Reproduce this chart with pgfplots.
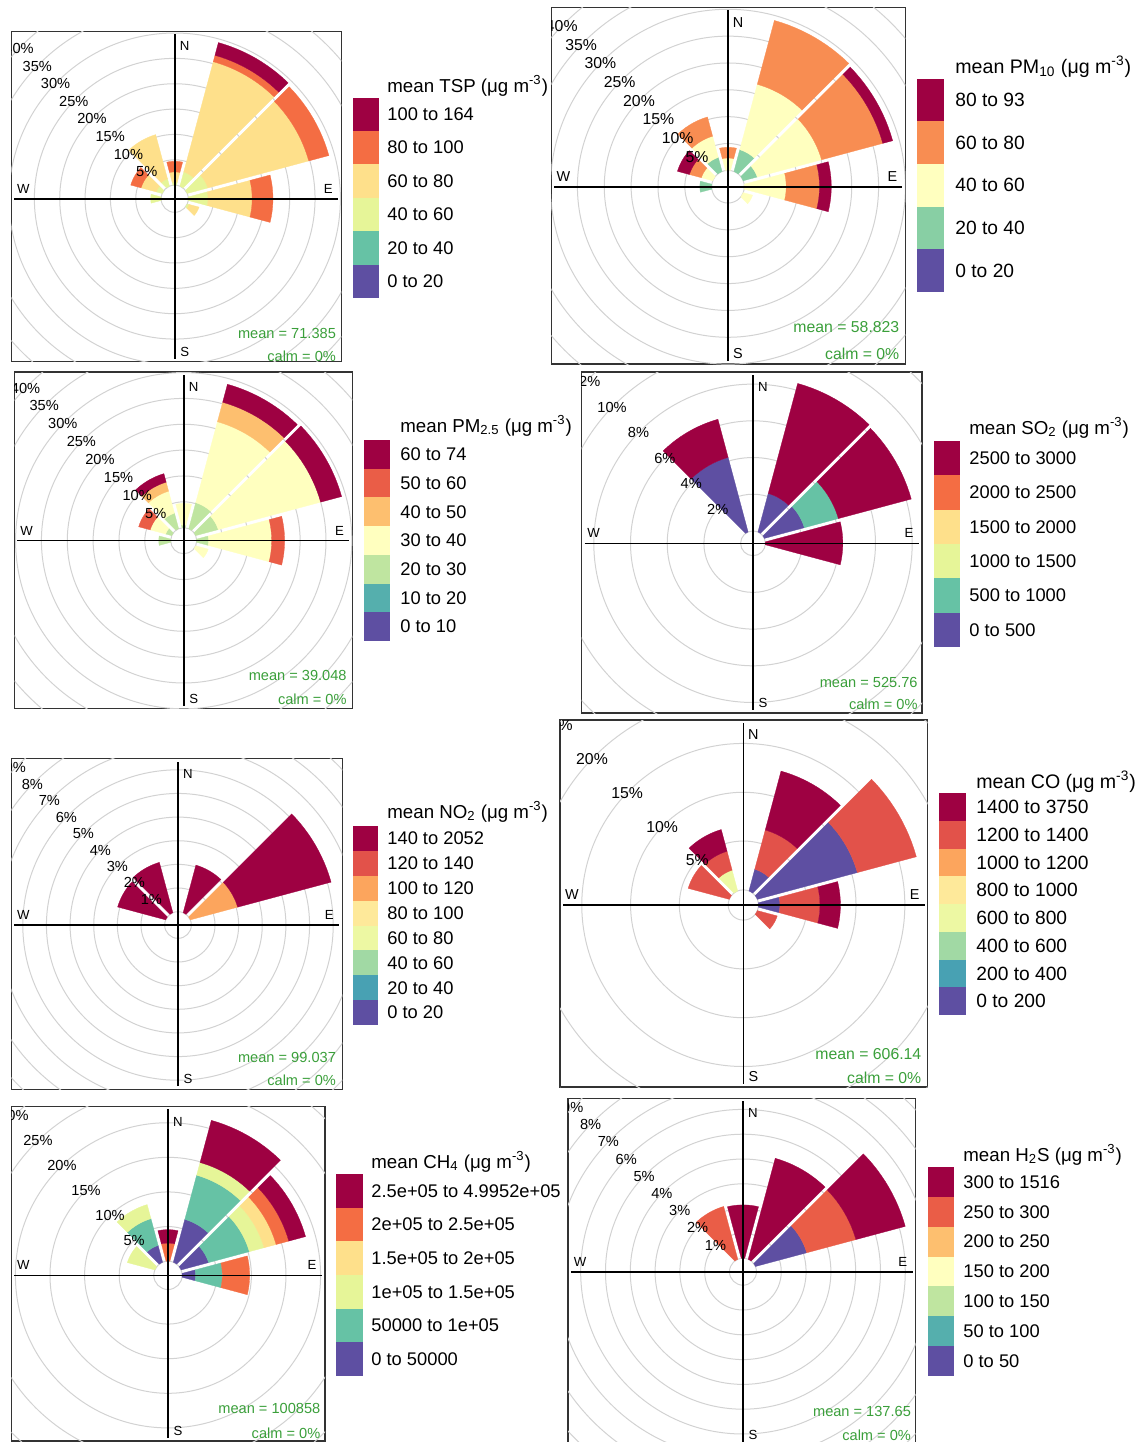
\documentclass[border=0pt]{standalone}
\usepackage{pgfplots}
\pgfplotsset{compat=1.18}
\usepackage{fontspec}
\setmainfont{Liberation Sans}

\definecolor{dr}{HTML}{9E0142}
\definecolor{pu}{HTML}{5E4FA2}
\definecolor{sxo}{HTML}{F46D43}
\definecolor{sxy}{HTML}{FEE08B}
\definecolor{sxg}{HTML}{E6F598}
\definecolor{sxt}{HTML}{66C2A5}
\definecolor{fvo}{HTML}{F88D52}
\definecolor{fvy}{HTML}{FFFFBF}
\definecolor{fvg}{HTML}{88CFA4}
\definecolor{svr}{HTML}{EA5D47}
\definecolor{svo}{HTML}{FDBF6F}
\definecolor{svy}{HTML}{FFFFBF}
\definecolor{svg}{HTML}{BFE5A0}
\definecolor{svt}{HTML}{55AFAD}
\definecolor{etr}{HTML}{E2524A}
\definecolor{eto}{HTML}{FCA55D}
\definecolor{ety}{HTML}{FEE99A}
\definecolor{etl}{HTML}{EDF8A3}
\definecolor{etg}{HTML}{A1D9A4}
\definecolor{ett}{HTML}{48A1B3}
\definecolor{gridcol}{HTML}{D2D2D2}
\definecolor{meanc}{HTML}{3A9F3A}

\pgfplotsset{rosebase/.style={scale only axis, anchor=north west, xtick=\empty, ytick=\empty,
  axis line style={black!80, line width=0.55pt}, clip=true}}
\tikzset{pctstyle/.style={font=\fontsize{7.3}{8}\selectfont, inner sep=0pt},
  pctbig/.style={font=\fontsize{7.9}{8.5}\selectfont, inner sep=0pt},
  cmp/.style={font=\fontsize{6.6}{7}\selectfont, inner sep=0pt},
  cmpbig/.style={font=\fontsize{7.2}{8}\selectfont, inner sep=0pt},
  legtext/.style={font=\fontsize{9.15}{10}\selectfont, inner sep=0pt},
  legbig/.style={font=\fontsize{9.6}{10.5}\selectfont, inner sep=0pt},
  legtitle/.style={font=\fontsize{9.35}{10}\selectfont, inner sep=0pt, anchor=base west},
  legtitlebig/.style={font=\fontsize{9.8}{10.5}\selectfont, inner sep=0pt, anchor=base west},
  meanst/.style={font=\fontsize{7.3}{8}\selectfont, inner sep=0pt, text=meanc, anchor=east},
  meanbig/.style={font=\fontsize{7.9}{8.5}\selectfont, inner sep=0pt, text=meanc, anchor=east}}

\def\lang{136}
% one coloured segment of a wind-rose wedge: direction, from %, to %, colour
\newcommand\wseg[4]{%
  \pgfmathsetmacro\wra{#2+\off}%
  \pgfmathsetmacro\wrb{#3+\off}%
  \pgfmathsetmacro\wda{asin(\hg/\wra)}%
  \pgfmathsetmacro\wdb{asin(\hg/\wrb)}%
  \gdef\wpts{}%
  \foreach \wi in {0,...,12}{%
    \pgfmathsetmacro\wang{105-#1-\wdb-\wi*(30-2*\wdb)/12}%
    \xdef\wpts{\wpts(\wang,\wrb)}}%
  \foreach \wi in {0,...,12}{%
    \pgfmathsetmacro\wang{75-#1+\wda+\wi*(30-2*\wda)/12}%
    \xdef\wpts{\wpts(\wang,\wra)}}%
  \edef\wtmp{\noexpand\addplot[data cs=polar, fill=#4, draw=#4, line width=0.15pt, forget plot] coordinates {\wpts} -- cycle;}%
  \wtmp}
\newcommand\gcirc[1]{%
  \pgfmathsetmacro\wrr{(\off+#1)*\kk*0.5}%
  \edef\wtmp{\noexpand\draw[gridcol, line width=0.5pt] (axis cs:0,0) circle[radius=\wrr pt];}\wtmp}
\newcommand\plab[1]{%
  \pgfmathsetmacro\wlx{(\off+#1)*cos(\lang)}%
  \pgfmathsetmacro\wly{(\off+#1)*sin(\lang)}%
  \edef\wtmp{\noexpand\node[\pst] at (axis cs:\wlx,\wly) {#1\noexpand\%};}\wtmp}
\newcommand\crossh[4]{\draw[black, line width=0.8pt] (axis cs:#1,0) -- (axis cs:#2,0);
  \draw[black, line width=0.8pt] (axis cs:0,#3) -- (axis cs:0,#4);}
\newcommand\compass[7]{% L T R B cx cy style
  \node[#7] at ({#5+10},{#2+15}) {N};
  \node[#7] at ({#5+10},{#4-10}) {S};
  \node[#7] at ({#1+12},{#6-10}) {W};
  \node[#7] at ({#3-13},{#6-10}) {E};}
\newcommand\wleg[7]{% x1 x2 ytop h labelx style list
  \foreach \wc/\wl [count=\wi from 0] in {#7}{%
    \fill[\wc] (#1,{#3+\wi*#4}) rectangle (#2,{#3+(\wi+1)*#4});
    \node[#6, anchor=west] at (#5,{#3+(\wi+0.5)*#4}) {\wl};}}

\begin{document}
\begin{tikzpicture}
\path[use as bounding box] (0,0) rectangle (570pt,-721pt);

% ---------------- TSP
\begin{axis}[rosebase, at={(5.65pt,-15.65pt)}, width=165pt, height=165.1pt,
  xmin=-32.23, xmax=32.86, ymin=-32.11, ymax=33.02]
\def\off{2.68}\def\kk{5.07}\pgfmathsetmacro\hg{1.8/\kk}\def\pst{pctstyle}
\foreach \gv in {0,5,...,40}{\gcirc{\gv}}
\wseg{0}{0}{0.6}{sxg}\wseg{0}{0.6}{2.6}{sxy}\wseg{0}{2.6}{4.7}{sxo}
\wseg{30}{0}{2.9}{sxg}\wseg{30}{2.9}{25.4}{sxy}\wseg{30}{25.4}{26.7}{sxo}\wseg{30}{26.7}{29.3}{dr}
\wseg{60}{0}{4.2}{sxg}\wseg{60}{4.2}{24.8}{sxy}\wseg{60}{24.8}{28.9}{sxo}
\wseg{90}{0}{3.9}{sxg}\wseg{90}{3.9}{12.6}{sxy}\wseg{90}{12.6}{16.7}{sxo}
\wseg{120}{0}{0.4}{sxg}\wseg{120}{0.4}{2.4}{sxy}
\wseg{270}{0}{2.05}{sxg}
\wseg{300}{0}{1.2}{sxg}\wseg{300}{1.2}{4.3}{sxy}\wseg{300}{4.3}{6.4}{sxo}
\wseg{330}{0}{1.5}{sxg}\wseg{330}{1.5}{10.5}{sxy}
\crossh{-31.64}{32.27}{-31.52}{32.43}
\foreach \gv in {5,10,...,40}{\plab{\gv}}
\end{axis}

% ---------------- PM10
\begin{axis}[rosebase, at={(275.65pt,-3.65pt)}, width=177pt, height=178.35pt,
  xmin=-32.91, xmax=33.02, ymin=-33.02, ymax=33.41]
\def\off{3.04}\def\kk{5.37}\pgfmathsetmacro\hg{1.8/\kk}\def\pst{pctbig}
\foreach \gv in {0,5,...,40}{\gcirc{\gv}}
\wseg{0}{0}{2.3}{fvy}\wseg{0}{2.3}{4.3}{fvo}
\wseg{30}{0}{4.2}{fvg}\wseg{30}{4.2}{16.8}{fvy}\wseg{30}{16.8}{29.1}{fvo}
\wseg{60}{0}{2.7}{fvg}\wseg{60}{2.7}{15.1}{fvy}\wseg{60}{15.1}{26.9}{fvo}\wseg{60}{26.9}{28.8}{dr}
\wseg{90}{0}{7.8}{fvy}\wseg{90}{7.8}{14.0}{fvo}\wseg{90}{14.0}{16.2}{dr}
\wseg{120}{0}{1.8}{fvy}
\wseg{270}{0}{2.2}{fvg}
\wseg{300}{0}{2.2}{fvy}\wseg{300}{2.2}{4.5}{fvo}\wseg{300}{4.5}{6.8}{dr}
\wseg{330}{0}{2.7}{fvg}\wseg{330}{2.7}{6.8}{fvy}\wseg{330}{6.8}{10.5}{fvo}
\crossh{-32.35}{32.46}{-32.46}{32.85}
\foreach \gv in {5,10,...,40}{\plab{\gv}}
\end{axis}

% ---------------- PM2.5
\begin{axis}[rosebase, at={(7.25pt,-186pt)}, width=169pt, height=168.25pt,
  xmin=-32.73, xmax=32.65, ymin=-32.46, ymax=32.63]
\def\off{2.52}\def\kk{5.17}\pgfmathsetmacro\hg{1.8/\kk}\def\pst{pctstyle}
\foreach \gv in {0,5,...,40}{\gcirc{\gv}}
\wseg{0}{0}{0.5}{svg}\wseg{0}{0.5}{4.7}{svy}
\wseg{30}{0}{5.2}{svg}\wseg{30}{5.2}{21.4}{svy}\wseg{30}{21.4}{25.3}{svo}\wseg{30}{25.3}{28.9}{dr}
\wseg{60}{0}{4.5}{svg}\wseg{60}{4.5}{25.0}{svy}\wseg{60}{25.0}{29.2}{dr}
\wseg{90}{0}{2.3}{svg}\wseg{90}{2.3}{14.5}{svy}\wseg{90}{14.5}{17.0}{svr}
\wseg{120}{0}{2.5}{svy}
\wseg{270}{0}{2.3}{svg}
\wseg{300}{0}{1.2}{svg}\wseg{300}{1.2}{4.3}{svy}\wseg{300}{4.3}{6.6}{svr}
\wseg{330}{0}{3.1}{svg}\wseg{330}{3.1}{7.5}{svy}\wseg{330}{7.5}{9.3}{svo}\wseg{330}{9.3}{11.0}{dr}
\crossh{-32.15}{32.07}{-31.88}{32.05}
\foreach \gv in {5,10,...,40}{\plab{\gv}}
\end{axis}

% ---------------- SO2
\begin{axis}[rosebase, at={(290.75pt,-186pt)}, width=170.25pt, height=170.5pt,
  xmin=-9.346, xmax=9.210, ymin=-9.248, ymax=9.335]
\def\off{0.675}\def\kk{18.35}\pgfmathsetmacro\hg{1.8/\kk}\def\pst{pctstyle}
\foreach \gv in {0,2,...,12}{\gcirc{\gv}}
\wseg{30}{0}{2.17}{pu}\wseg{30}{2.17}{8.37}{dr}
\wseg{60}{0}{2.25}{pu}\wseg{60}{2.25}{4.17}{sxt}\wseg{60}{4.17}{8.28}{dr}
\wseg{90}{0}{4.22}{dr}
\wseg{330}{0}{4.2}{pu}\wseg{330}{4.2}{6.35}{dr}
\crossh{-9.18}{9.05}{-9.08}{9.17}
\foreach \gv in {2,4,...,12}{\plab{\gv}}
\end{axis}

% ---------------- NO2
\begin{axis}[rosebase, at={(5.65pt,-379.35pt)}, width=165.5pt, height=165.3pt,
  xmin=-7.052, xmax=6.950, ymin=-6.950, ymax=7.035]
\def\off{0.565}\def\kk{23.64}\pgfmathsetmacro\hg{1.8/\kk}\def\pst{pctstyle}
\foreach \gv in {0,1,...,9}{\gcirc{\gv}}
\wseg{30}{0}{2.08}{dr}
\wseg{60}{0}{2.07}{eto}\wseg{60}{2.07}{6.16}{dr}
\wseg{300}{0}{2.1}{dr}
\wseg{330}{0}{2.2}{dr}
\crossh{-6.92}{6.82}{-6.82}{6.91}
\foreach \gv in {1,2,...,9}{\plab{\gv}}
\end{axis}

% ---------------- CO
\begin{axis}[rosebase, at={(280pt,-360pt)}, width=183.85pt, height=183.5pt,
  xmin=-18.78, xmax=18.89, ymin=-18.65, ymax=18.95]
\def\off{1.55}\def\kk{9.76}\pgfmathsetmacro\hg{1.8/\kk}\def\pst{pctbig}
\foreach \gv in {0,5,...,25}{\gcirc{\gv}}
\wseg{30}{0}{2.3}{pu}\wseg{30}{2.3}{6.45}{etr}\wseg{30}{6.45}{12.7}{dr}
\wseg{60}{0}{10.6}{pu}\wseg{60}{10.6}{16.85}{etr}
\wseg{90}{0}{2.2}{pu}\wseg{90}{2.2}{6.3}{etr}\wseg{90}{6.3}{8.4}{dr}
\wseg{120}{0}{2.1}{etr}
\wseg{300}{0}{4.35}{etr}
\wseg{330}{0}{2.2}{etl}\wseg{330}{2.2}{4.2}{etr}\wseg{330}{4.2}{6.5}{dr}
\crossh{-18.47}{18.58}{-18.34}{18.64}
\foreach \gv in {5,10,...,25}{\plab{\gv}}
\end{axis}

% ---------------- CH4
\begin{axis}[rosebase, at={(5.65pt,-553.25pt)}, width=156.85pt, height=167.25pt,
  xmin=-22.64, xmax=22.69, ymin=-23.94, ymax=24.39]
\def\off{2.05}\def\kk{6.92}\pgfmathsetmacro\hg{1.8/\kk}\def\pst{pctstyle}\def\lang{134}
\foreach \gv in {0,5,...,30}{\gcirc{\gv}}
\wseg{0}{0}{2.6}{sxo}\wseg{0}{2.6}{4.55}{dr}
\wseg{30}{0}{6.4}{pu}\wseg{30}{6.4}{13.0}{sxt}\wseg{30}{13.0}{14.9}{sxg}\wseg{30}{14.9}{21.2}{dr}
\wseg{60}{0}{4.1}{pu}\wseg{60}{4.1}{10.2}{sxt}\wseg{60}{10.2}{12.4}{sxg}\wseg{60}{12.4}{14.2}{sxy}\wseg{60}{14.2}{16.1}{sxo}\wseg{60}{16.1}{18.6}{dr}
\wseg{90}{0}{1.95}{pu}\wseg{90}{1.95}{5.8}{sxt}\wseg{90}{5.8}{9.75}{sxo}
\wseg{300}{0}{4.1}{sxg}
\wseg{330}{0}{2.5}{pu}\wseg{330}{2.5}{6.5}{sxt}\wseg{330}{6.5}{8.6}{sxg}
\crossh{-22.21}{22.26}{-23.51}{23.96}
\foreach \gv in {5,10,...,30}{\plab{\gv}}
\end{axis}

% ---------------- H2S
\begin{axis}[rosebase, at={(284pt,-549.15pt)}, width=173.85pt, height=173.35pt,
  xmin=-7.056, xmax=6.964, ymin=-6.988, ymax=6.992]
\def\off{0.544}\def\kk{24.8}\pgfmathsetmacro\hg{1.8/\kk}\def\pst{pctstyle}
\foreach \gv in {0,1,...,9}{\gcirc{\gv}}
\wseg{0}{0}{2.15}{dr}
\wseg{30}{0}{4.21}{dr}
\wseg{60}{0}{2.14}{pu}\wseg{60}{2.14}{4.19}{svr}\wseg{60}{4.19}{6.25}{dr}
\wseg{330}{0}{2.2}{svr}
\crossh{-6.94}{6.84}{-6.87}{6.87}
\foreach \gv in {1,2,...,9}{\plab{\gv}}
\end{axis}

% ---------------- texts and legends (pixel coordinates)
\begin{scope}[x=0.5pt, y=-0.5pt]
\compass{11.3}{31.3}{341.3}{361.5}{174.7}{198.7}{cmp}
\compass{551.3}{7.3}{905.3}{364}{728}{186.7}{cmpbig}
\compass{14.5}{372}{352.5}{708.5}{183.7}{540.7}{cmp}
\compass{581.5}{372}{922}{713}{753}{543.3}{cmp}
\compass{11.3}{758.7}{342.3}{1089.3}{178}{925}{cmp}
\compass{560}{720}{927.7}{1087}{743.3}{905}{cmpbig}
\compass{11.3}{1106.5}{325}{1441}{168}{1275.3}{cmp}
\compass{568}{1098.3}{915.7}{1445}{743}{1271.7}{cmp}

\node[meanst] at (336.3,333) {mean = 71.385};
\node[meanst] at (336.3,356) {calm = 0\%};
\node[meanbig] at (899.7,327.3) {mean = 58.823};
\node[meanbig] at (899.7,354) {calm = 0\%};
\node[meanst] at (347,675.7) {mean = 39.048};
\node[meanst] at (347,699) {calm = 0\%};
\node[meanst] at (918,682.3) {mean = 525.76};
\node[meanst] at (918,704) {calm = 0\%};
\node[meanst] at (336.3,1057.7) {mean = 99.037};
\node[meanst] at (336.3,1080) {calm = 0\%};
\node[meanbig] at (921.7,1054.3) {mean = 606.14};
\node[meanbig] at (921.7,1077.7) {calm = 0\%};
\node[meanst] at (320.7,1408) {mean = 100858};
\node[meanst] at (320.7,1433) {calm = 0\%};
\node[meanst] at (911.3,1411.7) {mean = 137.65};
\node[meanst] at (911.3,1435.7) {calm = 0\%};

% legends
\node[legtitle] at (387,92) {mean TSP (μg m\textsuperscript{-3})};
\wleg{352.5}{378.5}{97.5}{33.42}{387}{legtext}{dr/100 to 164, sxo/80 to 100, sxy/60 to 80, sxg/40 to 60, sxt/20 to 40, pu/0 to 20}
\node[legtitlebig] at (955,73) {mean PM\textsubscript{10} (μg m\textsuperscript{-3})};
\wleg{917}{944}{78.5}{42.7}{955}{legbig}{dr/80 to 93, fvo/60 to 80, fvy/40 to 60, fvg/20 to 40, pu/0 to 20}
\node[legtitle] at (400,432) {mean PM\textsubscript{2.5} (μg m\textsuperscript{-3})};
\wleg{364}{390}{440}{28.71}{400}{legtext}{dr/60 to 74, svr/50 to 60, svo/40 to 50, svy/30 to 40, svg/20 to 30, svt/10 to 20, pu/0 to 10}
\node[legtitle] at (969,434) {mean SO\textsubscript{2} (μg m\textsuperscript{-3})};
\wleg{934}{960}{441}{34.33}{969}{legtext}{dr/2500 to 3000, sxo/2000 to 2500, sxy/1500 to 2000, sxg/1000 to 1500, sxt/500 to 1000, pu/0 to 500}
\node[legtitle] at (387,818) {mean NO\textsubscript{2} (μg m\textsuperscript{-3})};
\wleg{353}{378}{826}{24.875}{387}{legtext}{dr/140 to 2052, etr/120 to 140, eto/100 to 120, ety/80 to 100, etl/60 to 80, etg/40 to 60, ett/20 to 40, pu/0 to 20}
\node[legtitlebig] at (976,788) {mean CO (μg m\textsuperscript{-3})};
\wleg{939}{966}{793}{27.75}{976}{legbig}{dr/1400 to 3750, etr/1200 to 1400, eto/1000 to 1200, ety/800 to 1000, etl/600 to 800, etg/400 to 600, ett/200 to 400, pu/0 to 200}
\node[legtitle] at (371,1168) {mean CH\textsubscript{4} (μg m\textsuperscript{-3})};
\wleg{336}{363}{1174}{33.67}{371}{legtext}{dr/2.5e+05 to 4.9952e+05, sxo/2e+05 to 2.5e+05, sxy/1.5e+05 to 2e+05, sxg/1e+05 to 1.5e+05, sxt/50000 to 1e+05, pu/0 to 50000}
\node[legtitle] at (963,1161) {mean H\textsubscript{2}S (μg m\textsuperscript{-3})};
\wleg{928}{954}{1167}{29.86}{963}{legtext}{dr/300 to 1516, svr/250 to 300, svo/200 to 250, svy/150 to 200, svg/100 to 150, svt/50 to 100, pu/0 to 50}
\end{scope}
\end{tikzpicture}
\end{document}
